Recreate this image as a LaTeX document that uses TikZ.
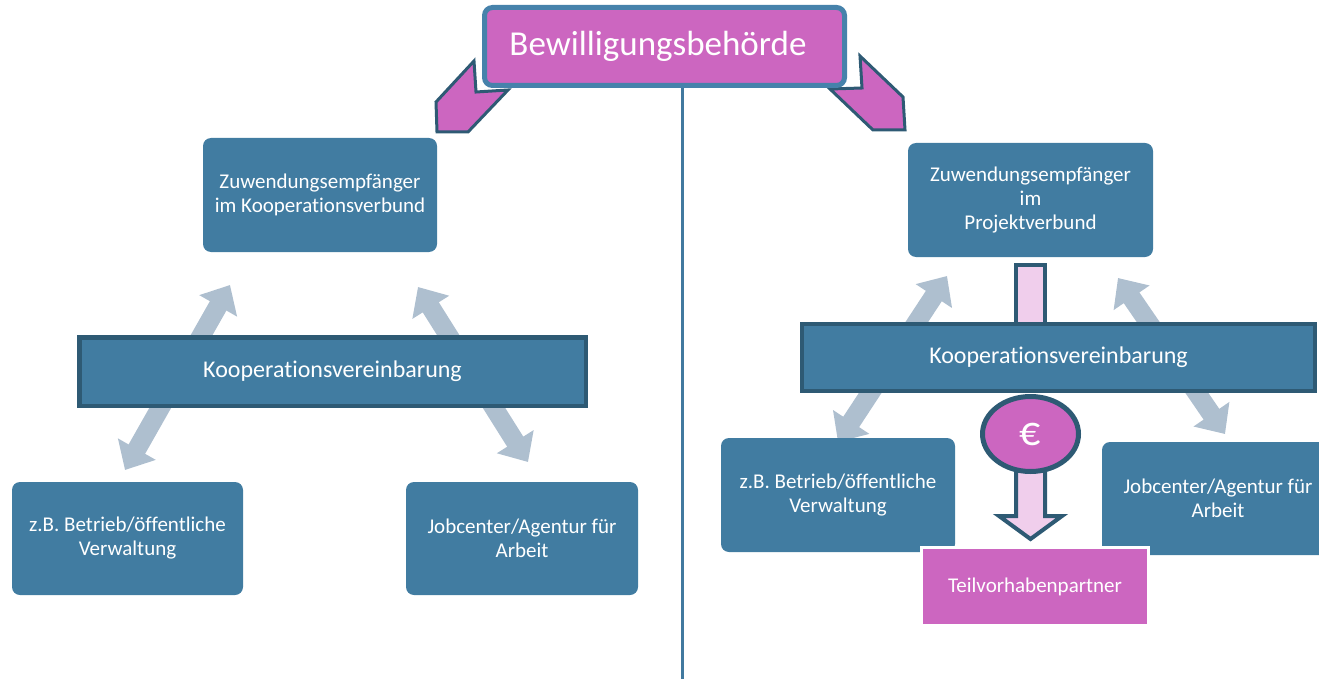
\documentclass[tikz,border=0pt]{standalone}
\usepackage{fontspec}
\setmainfont[RawFeature={-liga;-clig;-dlig;-calt}]{Carlito}
\usetikzlibrary{arrows.meta,shapes.geometric}
\definecolor{boxblue}{HTML}{417CA1}
\definecolor{darkteal}{HTML}{2E5A74}
\definecolor{topborder}{HTML}{4682AB}
\definecolor{magentafill}{HTML}{CC66C0}
\definecolor{lightpink}{HTML}{F0CEEC}
\definecolor{arrowgray}{HTML}{AEBFCF}
\definecolor{linecol}{HTML}{41799F}
\begin{document}
\begin{tikzpicture}[x=1pt,y=-1pt,
  bluebox/.style={fill=boxblue, rounded corners=8pt, text=white, align=center,
    font=\fontsize{21}{24}\selectfont, inner sep=0pt},
  koop/.style={fill=boxblue, draw=darkteal, line width=4.5pt, text=white,
    font=\fontsize{24}{28}\selectfont, inner sep=0pt},
  dblarrow/.style={draw=arrowgray, line width=19pt,
    {Triangle[length=24pt,width=42pt]}-{Triangle[length=24pt,width=42pt]}},
  pent/.style={fill=magentafill, draw=darkteal, line width=3pt, line join=miter},
  pinkarrow/.style={fill=lightpink, draw=darkteal, line width=4pt, line join=miter},
]
\useasboundingbox (0,0) rectangle (1319,679);

% magenta chevrons
\draw[pent] (474,61) -- (476,92) -- (508,90) -- (468,132) -- (437,132) -- (436,102) -- cycle;
\draw[pent] (860,56) -- (903,97) -- (905,130) -- (873,130) -- (830,89) -- (862,88) -- cycle;

% top box
\node[fill=magentafill, draw=topborder, line width=5pt, rounded corners=8pt,
  minimum width=360pt, minimum height=78pt, inner sep=0pt, text=white,
  font=\fontsize{35}{40}\selectfont] (bew) at (664.5,46.5) {Bewilligungsbehörde\hspace*{13pt}};

% vertical divider
\coordinate (lineend) at (682.5,679);
\draw[linecol, line width=3.5pt] (bew.south -| lineend) -- (lineend);

% ---------- left diagram ----------
\node[bluebox, minimum width=234pt, minimum height=114pt] (zuwL) at (320,195)
  {Zuwendungsempfänger\\im Kooperationsverbund};

\coordinate (l1a) at (125,470);
\coordinate (l1b) at (230,285);
\coordinate (l2a) at (418,287);
\coordinate (l2b) at (528,462);
\draw[dblarrow] (l1a) -- (l1b);
\draw[dblarrow] (l2a) -- (l2b);

\node[koop, minimum width=506.5pt, minimum height=68.5pt] (koopL) at (332.5,371.5)
  {Kooperationsvereinbarung};

\node[bluebox, minimum width=231pt, minimum height=113pt] (betrL) at (127.5,538.5)
  {z.B. Betrieb/öffentliche\\Verwaltung};
\node[bluebox, minimum width=232pt, minimum height=113pt] (jobL) at (522,538.5)
  {Jobcenter/Agentur für\\Arbeit};

% ---------- right diagram ----------
\node[bluebox, minimum width=245pt, minimum height=114pt] (zuwR) at (1030.5,200)
  {Zuwendungsempfänger\\im\\Projektverbund};

\draw[pinkarrow] (1016,265) rectangle (1045,340);

\coordinate (r1a) at (838,442);
\coordinate (r1b) at (947,276);
\coordinate (r2a) at (1118,278);
\coordinate (r2b) at (1225,434);
\draw[dblarrow] (r1a) -- (r1b);
\draw[dblarrow] (r2a) -- (r2b);

\node[koop, minimum width=513pt, minimum height=67pt] (koopR) at (1058.5,357.5)
  {Kooperationsvereinbarung};

\node[bluebox, minimum width=234pt, minimum height=114pt] (betrR) at (838,495)
  {z.B. Betrieb/öffentliche\\Verwaltung};
\node[bluebox, minimum width=232pt, minimum height=113pt] (jobR) at (1218,498.5)
  {Jobcenter/Agentur für\\Arbeit};

\node[fill=magentafill, draw=white, line width=3pt, minimum width=227pt, minimum height=78pt,
  inner sep=0pt, text=white, font=\fontsize{21}{24}\selectfont] (teil) at (1035,586.5)
  {Teilvorhabenpartner};

\draw[pinkarrow] (1016,465) -- (1016,516) -- (999,516) -- (1030.5,539) -- (1062,516)
  -- (1045,516) -- (1045,465) -- cycle;

\node[ellipse, fill=magentafill, draw=darkteal, line width=5pt, minimum width=96pt,
  minimum height=75pt, inner sep=0pt, text=white, font=\fontsize{42}{46}\selectfont]
  (euro) at (1030.5,434) {€};

\end{tikzpicture}
\end{document}
